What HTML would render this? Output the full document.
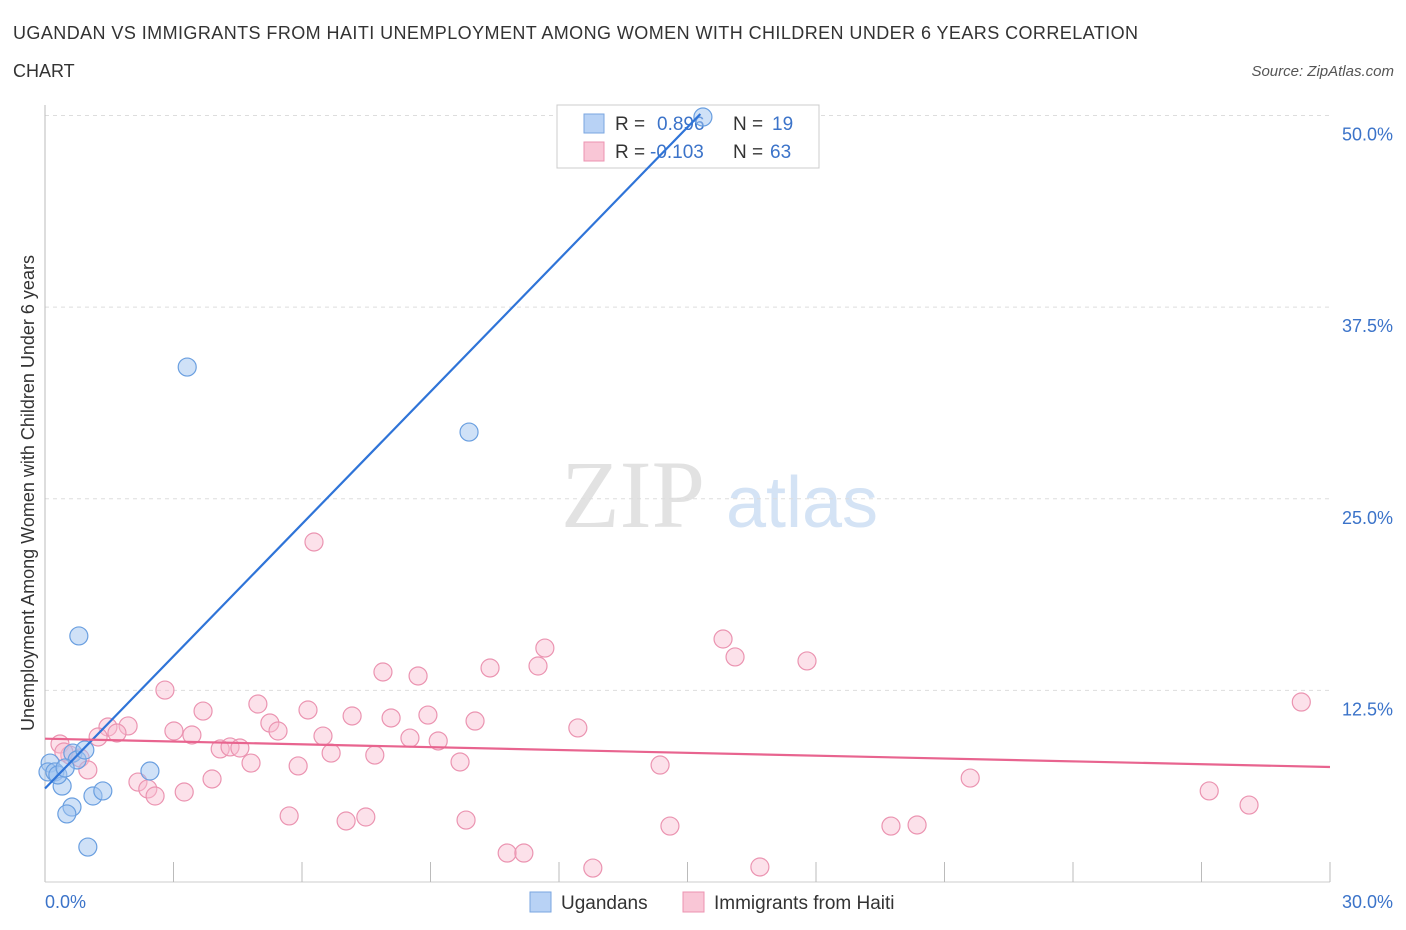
<!DOCTYPE html>
<html><head><meta charset="utf-8">
<style>
body{margin:0;background:#fff;font-family:"Liberation Sans",sans-serif;}
svg{display:block}
</style></head>
<body>
<svg id="chart" width="1406" height="930" xmlns="http://www.w3.org/2000/svg" font-family="Liberation Sans, sans-serif">
<text x="13" y="39" font-size="18" fill="#333" textLength="1125">UGANDAN VS IMMIGRANTS FROM HAITI UNEMPLOYMENT AMONG WOMEN WITH CHILDREN UNDER 6 YEARS CORRELATION</text>
<text x="13" y="77" font-size="18" fill="#333">CHART</text>
<text x="1394" y="76" font-size="15" fill="#555" font-style="italic" text-anchor="end">Source: ZipAtlas.com</text>
<text transform="translate(34,493) rotate(-90)" font-size="18" fill="#333" text-anchor="middle">Unemployment Among Women with Children Under 6 years</text>
<text x="633" y="527" font-size="96" fill="#e2e2e2" font-family="Liberation Serif, serif" text-anchor="middle">ZIP</text>
<text x="802" y="527" font-size="72" fill="#d4e3f5" text-anchor="middle">atlas</text>
<g id="grid"></g>
<g id="axes"></g>
<g>
<rect x="557" y="105" width="262" height="63" fill="#fff" stroke="#ccc"/>
<rect x="584" y="114" width="20" height="19" fill="#b8d2f5" stroke="#7aa6e0"/>
<text x="615" y="130" font-size="19" fill="#333">R =</text>
<text x="657" y="130" font-size="19" fill="#3b73c9">0.896</text>
<text x="733" y="130" font-size="19" fill="#333">N =</text>
<text x="772" y="130" font-size="19" fill="#3b73c9">19</text>
<rect x="584" y="142" width="20" height="19" fill="#f9c6d6" stroke="#ec93b0"/>
<text x="615" y="158" font-size="19" fill="#333">R =</text>
<text x="650" y="158" font-size="19" fill="#3b73c9">-0.103</text>
<text x="733" y="158" font-size="19" fill="#333">N =</text>
<text x="770" y="158" font-size="19" fill="#3b73c9">63</text>
</g>
<g id="pts"></g>
<g id="lines"></g>
<g>
<rect x="530" y="892" width="21" height="20" fill="#b8d2f5" stroke="#7aa6e0"/>
<text x="561" y="909" font-size="19" fill="#333">Ugandans</text>
<rect x="683" y="892" width="21" height="20" fill="#f9c6d6" stroke="#ec93b0"/>
<text x="714" y="909" font-size="19" fill="#333">Immigrants from Haiti</text>
</g>
</svg>
<script>
const yTicks=[12.5,25,37.5,50];
const yTickLabels=["12.5%","25.0%","37.5%","50.0%"];
const ugX=[0.12,0.07,0.23,0.40,0.65,0.75,0.93,1.12,1.35,0.63,0.51,1.00,2.45,0.79,3.32,9.90,15.36,0.30,0.47];
const ugY=[7.76,7.18,7.18,6.26,8.41,7.96,8.61,5.61,5.94,4.89,4.44,2.28,7.24,16.05,33.59,29.35,49.9,6.98,7.44];
const htX=[2.80,3.69,4.97,6.14,5.25,5.44,3.01,3.43,1.94,1.47,1.68,1.24,0.35,0.58,0.82,1.00,2.17,2.40,2.57,3.25,3.90,4.09,4.32,4.55,4.81,5.91,6.49,6.68,5.70,7.03,7.49,7.17,8.08,7.89,8.71,8.52,8.94,9.18,7.70,9.69,9.83,10.04,10.39,10.79,11.18,11.51,11.67,12.44,12.79,14.36,14.59,15.83,16.11,16.69,17.79,19.75,20.36,21.60,27.18,28.11,29.33,6.28,0.44];
const htY=[12.52,11.15,11.61,11.22,10.37,9.85,9.85,9.59,10.18,10.11,9.72,9.46,9.00,8.28,8.09,7.31,6.52,6.07,5.61,5.87,6.72,8.68,8.81,8.74,7.76,7.57,9.52,8.41,4.31,3.98,4.24,10.83,10.70,13.70,13.44,9.39,10.89,9.20,8.28,7.83,4.04,10.50,13.96,1.89,1.89,14.09,15.26,10.05,0.91,7.63,3.65,15.85,14.68,0.98,14.42,3.65,3.72,6.78,5.94,5.02,11.74,22.18,8.48];
const ugLine=[[0,6.1],[15.3,50.1]];
const htLine=[[0,9.35],[30,7.5]];
const X=v=>45+v*1285/30;
const Y=v=>882-v*15.33;
const NS="http://www.w3.org/2000/svg";
function mk(tag,attrs,parent){const e=document.createElementNS(NS,tag);for(const k in attrs)e.setAttribute(k,attrs[k]);parent.appendChild(e);return e;}
const grid=document.getElementById('grid'),axes=document.getElementById('axes'),pts=document.getElementById('pts'),lines=document.getElementById('lines');
yTicks.forEach((t,i)=>{
 const l=mk('line',{x1:45,x2:1330,y1:Y(t),y2:Y(t),stroke:'#ddd','stroke-dasharray':'4,4'},grid);
 
 
 const tx=mk('text',{x:1393,y:Y(t)+25,'font-size':18,fill:'#3b73c9','text-anchor':'end'},grid);
 tx.textContent=yTickLabels[i];
 
 
});
const ax=mk('line',{x1:45,x2:45,y1:105,y2:882,stroke:'#bbb'},axes);


const bx=mk('line',{x1:45,x2:1330,y1:882,y2:882,stroke:'#ccc'},axes);


for(let i=1;i<=10;i++){const t=mk('line',{x1:X(i*3),x2:X(i*3),y1:862,y2:882,stroke:'#bbb'},axes);
 
 }
const xl0=mk('text',{x:45,y:908,'font-size':18,fill:'#3b73c9'},axes);xl0.textContent='0.0%';


const xl1=mk('text',{x:1393,y:908,'font-size':18,fill:'#3b73c9','text-anchor':'end'},axes);xl1.textContent='30.0%';


htX.forEach((x,i)=>{const c=mk('circle',{cx:X(x),cy:Y(htY[i]),r:9,fill:'rgba(248,188,208,0.45)',stroke:'#eb94b1','stroke-width':1.2},pts);
 
 });
ugX.forEach((x,i)=>{const c=mk('circle',{cx:X(x),cy:Y(ugY[i]),r:9,fill:'rgba(160,195,240,0.5)',stroke:'#6a9fe0','stroke-width':1.2},pts);
 
 });
const l1=mk('line',{x1:X(ugLine[0][0]),y1:Y(ugLine[0][1]),x2:X(ugLine[1][0]),y2:Y(ugLine[1][1]),stroke:'#2f74d8','stroke-width':2.2},lines);


const l2=mk('line',{x1:X(htLine[0][0]),y1:Y(htLine[0][1]),x2:X(htLine[1][0]),y2:Y(htLine[1][1]),stroke:'#e8648f','stroke-width':2.2},lines);


</script>
</body></html>
